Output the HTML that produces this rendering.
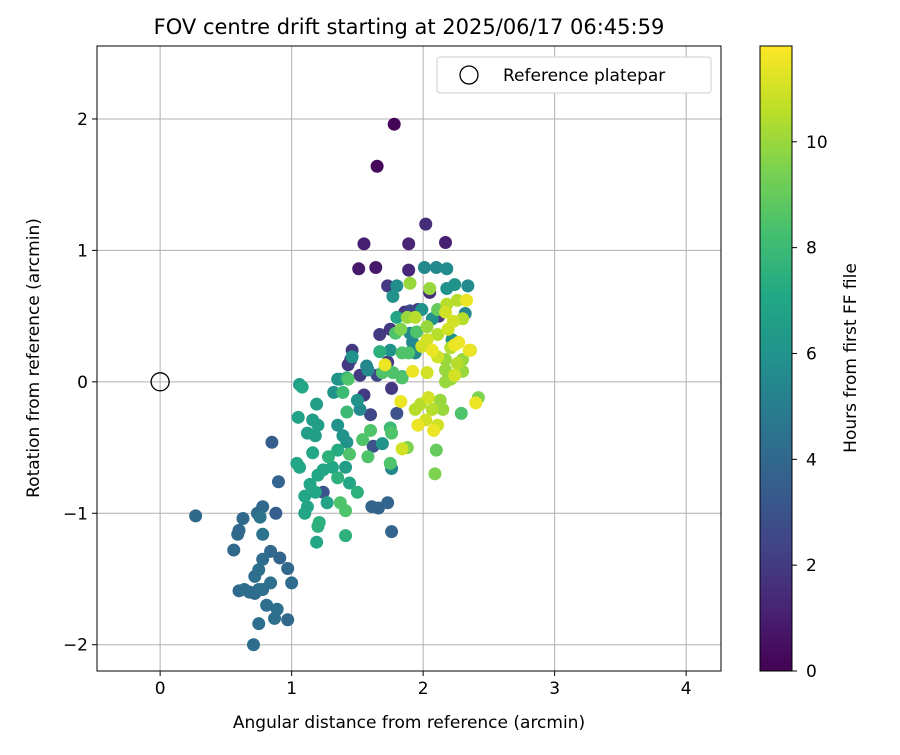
<!DOCTYPE html>
<html><head><meta charset="utf-8"><style>
body{margin:0;background:#fff;}
svg text{font-family:"DejaVu Sans","Liberation Sans",sans-serif;fill:#000;}
</style></head><body>
<svg id="c" width="900" height="750" xmlns="http://www.w3.org/2000/svg">
<defs>
<linearGradient id="vir" x1="0" y1="1" x2="0" y2="0">
<stop offset="0" stop-color="#440154"/><stop offset="0.1" stop-color="#482475"/><stop offset="0.2" stop-color="#414487"/><stop offset="0.3" stop-color="#355f8d"/><stop offset="0.4" stop-color="#2a788e"/><stop offset="0.5" stop-color="#21918c"/><stop offset="0.6" stop-color="#22a884"/><stop offset="0.7" stop-color="#44bf70"/><stop offset="0.8" stop-color="#7ad151"/><stop offset="0.9" stop-color="#bddf26"/><stop offset="1" stop-color="#fde725"/>
</linearGradient>
<clipPath id="pc"><rect x="97" y="46" width="624" height="625"/></clipPath>
</defs>
<g id="grid"></g>
<g id="pts" clip-path="url(#pc)"></g>
<rect x="97" y="46" width="624" height="625" fill="none" stroke="#000" stroke-width="1"/>
<g id="ticks"></g>
<text x="409" y="34" font-size="21" text-anchor="middle">FOV centre drift starting at 2025/06/17 06:45:59</text>
<text x="409" y="728" font-size="17" text-anchor="middle">Angular distance from reference (arcmin)</text>
<text transform="translate(39,358) rotate(-90)" font-size="17" text-anchor="middle">Rotation from reference (arcmin)</text>
<g>
<rect x="437" y="57" width="274" height="36" rx="3" fill="#fff" stroke="#ccc"/>
<circle cx="469" cy="75" r="9" fill="none" stroke="#000" stroke-width="1.3"/>
<text x="503" y="81" font-size="17">Reference platepar</text>
</g>
<rect x="760" y="46" width="32" height="625" fill="url(#vir)" stroke="#000" stroke-width="1"/>
<g id="cbt"></g>
<text transform="translate(856,358) rotate(-90)" font-size="17" text-anchor="middle">Hours from first FF file</text>
</svg>
<script>
const xs=[1.78,1.65,2.02,1.55,1.89,2.17,1.51,1.64,1.89,2.01,2.10,2.18,1.90,1.73,1.80,1.77,2.05,2.05,2.18,2.24,2.34,2.33,2.26,2.18,2.17,2.23,2.30,2.32,1.80,1.86,1.96,1.99,1.88,1.94,2.07,2.11,1.67,1.75,1.83,1.79,1.90,1.95,2.03,2.11,2.19,2.03,1.99,2.07,2.11,2.21,2.27,2.36,2.30,2.22,1.92,1.94,1.67,1.75,1.84,1.89,1.46,1.46,1.43,1.71,1.58,1.52,1.42,1.37,1.77,1.84,1.92,2.03,2.17,2.30,2.26,1.06,2.42,2.29,2.40,2.35,2.24,2.10,2.09,2.17,2.13,2.04,1.98,2.07,2.02,1.96,2.11,2.15,2.21,2.24,2.17,
1.08,1.19,1.05,1.16,1.20,1.12,1.18,1.35,1.16,1.04,1.06,1.28,1.35,1.44,1.58,1.41,1.24,1.31,1.20,1.35,1.44,1.14,1.10,1.12,1.10,1.18,1.27,1.24,1.50,1.37,1.41,1.61,1.66,1.73,1.21,1.20,1.41,1.19,1.76,1.75,1.76,1.84,1.88,1.76,1.75,1.69,1.62,1.54,1.60,1.42,1.39,1.42,1.52,1.50,1.39,1.32,1.35,1.43,1.57,1.69,1.76,1.84,1.83,1.80,1.94,2.08,
0.85,0.90,0.27,0.63,0.74,0.78,0.88,0.60,0.59,0.78,0.56,0.84,0.91,0.97,0.78,0.75,0.72,0.84,1.00,0.78,0.60,0.68,0.81,0.89,0.97,0.87,0.75,0.71,0.75,0.72,0.64,0.76,
1.45,1.65,1.55,1.73,1.90,2.12,1.60];
const ys=[1.96,1.64,1.20,1.05,1.05,1.06,0.86,0.87,0.85,0.87,0.87,0.86,0.75,0.73,0.73,0.65,0.71,0.68,0.71,0.74,0.73,0.62,0.62,0.59,0.53,0.46,0.48,0.52,0.49,0.53,0.55,0.55,0.49,0.49,0.48,0.55,0.36,0.40,0.40,0.37,0.37,0.38,0.42,0.36,0.40,0.32,0.27,0.24,0.19,0.26,0.30,0.24,0.17,0.32,0.30,0.22,0.23,0.24,0.22,0.22,0.24,0.19,0.13,0.13,0.09,0.05,0.03,0.02,0.07,0.04,0.08,0.07,0.09,0.08,0.14,-0.02,-0.12,-0.24,-0.16,0.24,0.28,-0.52,-0.70,0.00,-0.14,-0.12,-0.17,-0.21,-0.29,-0.33,-0.33,-0.21,0.02,0.05,0.17,
-0.04,-0.17,-0.27,-0.29,-0.33,-0.39,-0.41,-0.33,-0.54,-0.62,-0.65,-0.57,-0.52,-0.55,-0.57,-0.65,-0.67,-0.65,-0.71,-0.73,-0.77,-0.78,-0.87,-0.95,-1.00,-0.84,-0.92,-0.84,-0.84,-0.92,-0.98,-0.95,-0.96,-0.92,-1.07,-1.10,-1.17,-1.22,-1.14,-0.62,-0.66,-0.51,-0.50,-0.39,-0.35,-0.47,-0.49,-0.44,-0.37,-0.46,-0.41,-0.23,-0.21,-0.14,-0.08,-0.08,0.02,0.02,0.12,0.07,-0.05,0.03,-0.15,-0.24,-0.21,-0.37,
-0.46,-0.76,-1.02,-1.04,-1.00,-0.95,-1.00,-1.13,-1.16,-1.16,-1.28,-1.29,-1.34,-1.42,-1.35,-1.43,-1.48,-1.53,-1.53,-1.58,-1.59,-1.60,-1.70,-1.73,-1.81,-1.80,-1.84,-2.00,-1.58,-1.61,-1.58,-1.03,
0.17,0.05,-0.10,0.15,0.54,0.50,-0.25];
const hours=[0.1,0.2,1.5,1.0,1.2,1.0,0.8,0.8,1.3,5.5,5.5,5.6,10,2,5.8,6,10,1.5,6,6,5.6,11.5,10.5,10.5,11,11,10.5,5.5,7,2,2,6,10,10.5,6,9,2,2,9.5,8.5,5.5,8.5,10,10.5,11,11,11,11.5,11,10.5,11.5,11,10,6,5.5,5.5,7.5,6,8.5,8.5,2,6,2,11.5,5.5,2,7.5,6,8.5,7.5,11.5,11,10,10,10.5,6.5,9.5,8.5,11.5,11.5,11.5,9,9.5,10,10,11,10.5,10.5,11,11.5,11,10,10,11,10,
7,6.5,6.8,6.5,6.5,6.5,6.5,6,7,7,7,7.5,7.2,8.5,8.5,6.5,7,7,7,7.5,7,7,7,7,7,7,6.8,3,7.5,8.5,8.5,3.8,3.8,3.8,7.5,7.5,7.5,7,3.8,8.5,5.5,11,9.5,8.5,8,6,3,8.5,8.5,6,6,8,5.5,6,8,6,6,8.5,5.5,8.5,2,8.5,11.5,3,10.5,11.5,
3.5,3.8,4,4,4,4,3.5,4,4,4.5,4,4,3.8,4,4.2,4.3,4.3,4.3,4.2,4.3,4,4.2,4.3,4.3,4,4.3,4.3,4.2,4.2,4,4.2,4.5,
1.5,2.5,2,2,2.5,2,2.5];
const xTicks=[0,1,2,3,4];
const yTicks=[-2,-1,0,1,2];
const cbTicks=[0,2,4,6,8,10];
const XMIN=-0.48,XMAX=4.265,YMIN=-2.2,YMAX=2.555,HMAX=11.81;
const PL=97,PR=721,PT=46,PB=671;
const sx=v=>PL+(v-XMIN)/(XMAX-XMIN)*(PR-PL);
const sy=v=>PB-(v-YMIN)/(YMAX-YMIN)*(PB-PT);
const sh=v=>671-v/HMAX*625;
const NS='http://www.w3.org/2000/svg';
function mk(t,a,p){const e=document.createElementNS(NS,t);for(const k in a)e.setAttribute(k,a[k]);p.appendChild(e);return e;}
const V=[[68,1,84],[72,36,117],[65,68,135],[53,95,141],[42,120,142],[33,145,140],[34,168,132],[68,191,112],[122,209,81],[189,223,38],[253,231,37]];
function vir(t){t=Math.max(0,Math.min(1,t))*10;const i=Math.min(9,Math.floor(t)),f=t-i;const a=V[i],b=V[i+1];return 'rgb('+a.map((c,k)=>Math.round(c+(b[k]-c)*f)).join(',')+')';}
const g=document.getElementById('grid'),tk=document.getElementById('ticks'),pg=document.getElementById('pts'),cb=document.getElementById('cbt');
xTicks.forEach(v=>{const x=sx(v);
const l=mk('line',{x1:x,x2:x,y1:PT,y2:PB,stroke:'#b0b0b0','stroke-width':1},g);


mk('line',{x1:x,x2:x,y1:PB,y2:PB+5,stroke:'#000'},tk);
const t=mk('text',{x:x,y:PB+23,'font-size':17,'text-anchor':'middle'},tk);t.textContent=v;

});
yTicks.forEach(v=>{const y=sy(v);
const l=mk('line',{x1:PL,x2:PR,y1:y,y2:y,stroke:'#b0b0b0','stroke-width':1},g);


mk('line',{x1:PL-5,x2:PL,y1:y,y2:y,stroke:'#000'},tk);
const t=mk('text',{x:PL-9,y:y+6,'font-size':17,'text-anchor':'end'},tk);t.textContent=v<0?'\u2212'+(-v):v;

});
cbTicks.forEach(v=>{const y=sh(v);
mk('line',{x1:792,x2:797,y1:y,y2:y,stroke:'#000'},cb);
const t=mk('text',{x:806,y:y+6,'font-size':17},cb);t.textContent=v;

});
const idx=xs.map((_,i)=>i).sort((a,b)=>hours[a]-hours[b]);
idx.forEach(i=>{const c=mk('circle',{cx:sx(xs[i]),cy:sy(ys[i]),r:6.5,fill:vir(hours[i]/HMAX)},pg);

});
const r=mk('circle',{cx:sx(0),cy:sy(0),r:9,fill:'none',stroke:'#000','stroke-width':1.3},pg);


</script>
</body></html>
